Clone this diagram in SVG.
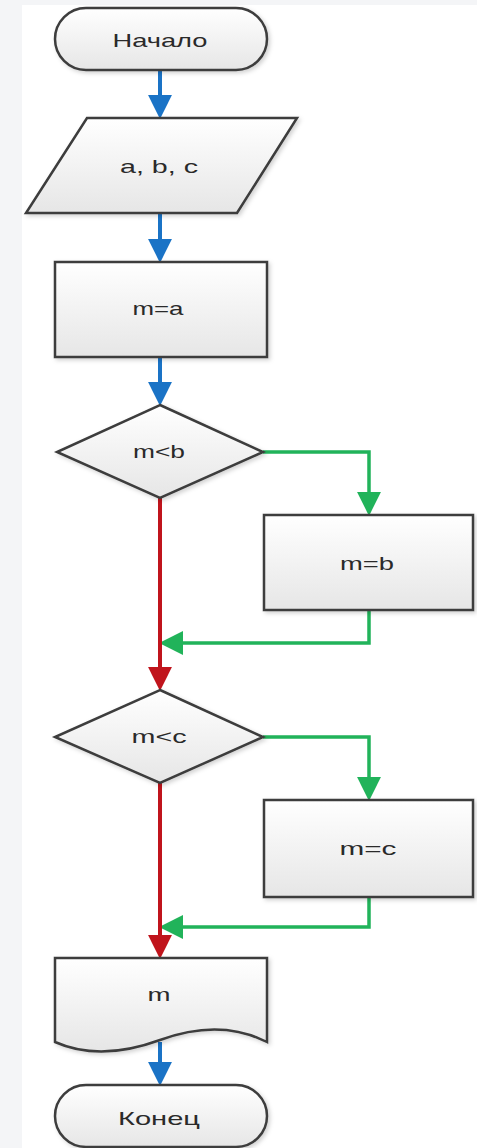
<svg xmlns="http://www.w3.org/2000/svg" width="477" height="1148" viewBox="0 0 477 1148">
<defs>
<linearGradient id="nodeFill" x1="0" y1="0" x2="0" y2="1">
<stop offset="0" stop-color="#ffffff"/>
<stop offset="1" stop-color="#e6e6e6"/>
</linearGradient>
<filter id="shadow" x="-10%" y="-10%" width="130%" height="130%">
<feDropShadow dx="2" dy="2" stdDeviation="2" flood-color="#000" flood-opacity="0.18"/>
</filter>
<marker id="ahBlue" markerUnits="userSpaceOnUse" markerWidth="24" markerHeight="24" viewBox="0 0 22 22" refX="12" refY="11" orient="auto">
<path d="M0,0 L22,11 L0,22 z" fill="#1a73c6"/>
</marker>
<marker id="ahRed" markerUnits="userSpaceOnUse" markerWidth="24" markerHeight="24" viewBox="0 0 22 22" refX="12" refY="11" orient="auto">
<path d="M0,0 L22,11 L0,22 z" fill="#c0141c"/>
</marker>
<marker id="ahGreen" markerUnits="userSpaceOnUse" markerWidth="24" markerHeight="24" viewBox="0 0 22 22" refX="12" refY="11" orient="auto">
<path d="M0,0 L22,11 L0,22 z" fill="#21b35a"/>
</marker>
</defs>
<style>
.node{fill:url(#nodeFill);stroke:#3c3c3c;stroke-width:2.5;filter:url(#shadow);stroke-linejoin:miter}
.lbl{font-family:"Liberation Sans",Arial,sans-serif;font-size:19px;fill:#2a2a2a;text-anchor:middle}
.blue{fill:none;stroke:#1a73c6;stroke-width:4;marker-end:url(#ahBlue)}
.red{fill:none;stroke:#c0141c;stroke-width:4;marker-end:url(#ahRed)}
.green{fill:none;stroke:#21b35a;stroke-width:3.5;marker-end:url(#ahGreen)}
</style>
<rect x="0" y="0" width="477" height="1148" fill="#ffffff"/>
<rect x="0" y="0" width="22" height="1148" fill="#f4f5f7"/>
<rect x="0" y="0" width="477" height="5" fill="#f4f5f7"/>

<g id="connectors">
<path class="blue" d="M160,70 V108"/>
<path class="blue" d="M160,213 V252"/>
<path class="blue" d="M160,357 V395"/>
<path class="green" d="M263,452 H369 V505"/>
<path class="green" d="M369,610 V643 H170"/>
<path class="red" d="M160,498 V680"/>
<path class="green" d="M263,737 H369 V790"/>
<path class="green" d="M369,897 V927 H170"/>
<path class="red" d="M160,783 V948"/>
<path class="blue" d="M160,1042 V1075"/>
</g>

<g id="start">
<rect class="node" x="55" y="8" width="212" height="62" rx="31" ry="31"/>
<text class="lbl" x="160" y="47" textLength="95" lengthAdjust="spacingAndGlyphs">Начало</text>
</g>
<g id="input">
<polygon class="node" points="87,118 297,118 237,213 26,213"/>
<text class="lbl" x="159" y="173" textLength="78" lengthAdjust="spacingAndGlyphs">a, b, c</text>
</g>
<g id="assign_a">
<rect class="node" x="55" y="262" width="212" height="95"/>
<text class="lbl" x="158" y="315" textLength="51" lengthAdjust="spacingAndGlyphs">m=a</text>
</g>
<g id="cond_b">
<polygon class="node" points="160,405 263,452 160,498 57,452"/>
<text class="lbl" x="159" y="458" textLength="52" lengthAdjust="spacingAndGlyphs">m&lt;b</text>
</g>
<g id="assign_b">
<rect class="node" x="264" y="515" width="209" height="95"/>
<text class="lbl" x="367" y="570" textLength="54" lengthAdjust="spacingAndGlyphs">m=b</text>
</g>
<g id="cond_c">
<polygon class="node" points="160,690 263,737 160,783 55,737"/>
<text class="lbl" x="159" y="743" textLength="55" lengthAdjust="spacingAndGlyphs">m&lt;c</text>
</g>
<g id="assign_c">
<rect class="node" x="264" y="800" width="209" height="97"/>
<text class="lbl" x="368" y="855" textLength="57" lengthAdjust="spacingAndGlyphs">m=c</text>
</g>
<g id="output">
<path class="node" d="M55,958 H267 V1042 Q220,1018 160,1040 T55,1042 Z"/>
<text class="lbl" x="159" y="1001" textLength="23" lengthAdjust="spacingAndGlyphs">m</text>
</g>
<g id="end">
<rect class="node" x="55" y="1085" width="212" height="62" rx="31" ry="31"/>
<text class="lbl" x="159" y="1125" textLength="82" lengthAdjust="spacingAndGlyphs">Конец</text>
</g>
</svg>
